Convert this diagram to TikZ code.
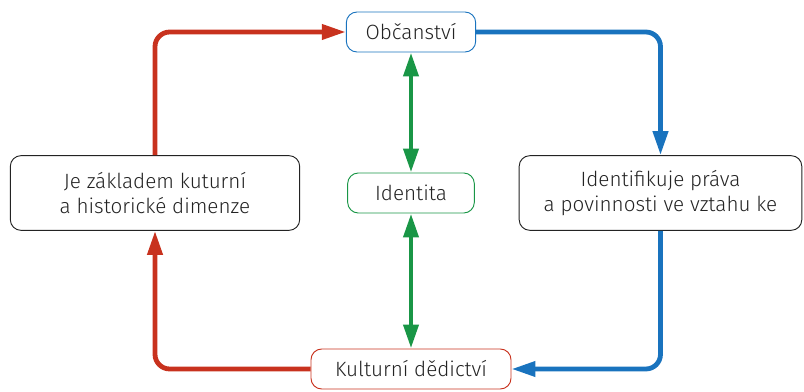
\documentclass[tikz,border=0pt]{standalone}
\usepackage{fontspec}
\setmainfont{Fira Sans}[UprightFont=* Light]
\usepackage{xcolor}
\usetikzlibrary{arrows.meta}

\definecolor{cervena}{RGB}{200,50,30}
\definecolor{modra}{RGB}{25,115,190}
\definecolor{zelena}{RGB}{25,150,70}
\definecolor{tmava}{RGB}{35,35,35}

\tikzset{
	box/.style = {draw, rounded corners=8pt, line width=0.7pt, text=tmava, align=center, font=\fontsize{15.5}{19}\selectfont, inner sep=0pt},
	spoj/.style = {line width=3.6pt, rounded corners=11pt, -{Triangle[length=18pt, width=11pt]}},
}

\begin{document}
\begin{tikzpicture}[x=0.75pt, y=-0.75pt]
			\useasboundingbox (0,0) rectangle (804,392);
			
			\node [box, draw=modra, minimum width=97pt, minimum height=30pt] (obcanstvi) at (411,32) {Občanství};
			\node [box, draw=zelena, minimum width=95pt, minimum height=30pt] (identita) at (411,193) {Identita};
			\node [box, draw=cervena, minimum width=150pt, minimum height=30pt] (dedictvi) at (411,369) {Kulturní dědictví};
			\node [box, draw=tmava, minimum width=217pt, minimum height=56pt] (zaklad) at (155,193) {Je základem kuturní\\a historické dimenze};
			\node [box, draw=tmava, minimum width=212pt, minimum height=56pt] (prava) at (660.5,193) {Identifikuje práva\\ a povinnosti ve vztahu ke};
			
			\begin{scope}[spoj, cervena]
				\draw (zaklad.north) |- (obcanstvi.west);
				\draw (dedictvi.west) -| (zaklad.south);
			\end{scope}
			
			\begin{scope}[spoj, modra]
				\draw (obcanstvi.east) -| (prava.north);
				\draw (prava.south) |- (dedictvi.east);
			\end{scope}
			
			\begin{scope}[spoj, zelena, {Triangle[length=18pt, width=11pt]}-{Triangle[length=18pt, width=11pt]}]
				\draw (obcanstvi) -- (identita);
				\draw (identita) -- (dedictvi);
			\end{scope}
		\end{tikzpicture}
\end{document}
